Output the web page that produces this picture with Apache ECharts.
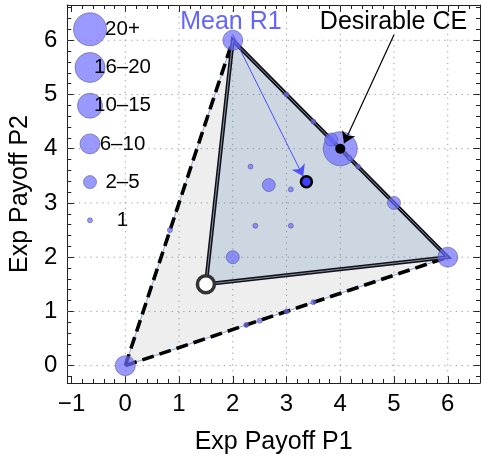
<!DOCTYPE html>
<html><head><meta charset="utf-8">
<script src="https://cdn.jsdelivr.net/npm/echarts@6/dist/echarts.min.js"></script>
<style>html,body{margin:0;padding:0;background:#fff}#c{width:482px;height:462px}</style>
</head><body><div id="c"></div>
<script>
// ---- axes / ticks ----
const X_MIN = -1.08, X_MAX = 6.6, Y_MIN = -0.32, Y_MAX = 6.65;
const X_TICKS = [-1, 0, 1, 2, 3, 4, 5, 6];
const X_TICK_LABELS = ['\u22121', '0', '1', '2', '3', '4', '5', '6'];
const Y_TICKS = [0, 1, 2, 3, 4, 5, 6];
const Y_TICK_LABELS = ['0', '1', '2', '3', '4', '5', '6'];
const GRID_X = [0, 1, 2, 3, 4, 5, 6];
const GRID_Y = [0, 1, 2, 3, 4, 5, 6];
const X_TITLE = 'Exp Payoff P1';
const Y_TITLE = 'Exp Payoff P2';

// ---- size legend ----
const LEGEND_LABELS = ['20+', '16\u201320', '10\u201315', '6\u201310', '2\u20135', '1'];

// ---- regions ----
const OUTER_X = [0, 2, 6];
const OUTER_Y = [0, 6, 2];
const INNER_X = [2, 6, 1.5];
const INNER_Y = [6, 2, 1.5];

// ---- observed points (category = index into LEGEND_LABELS) ----
const PT_X   = [4,    0, 2, 6,  3.83, 5, 2, 2.67,  4.17, 3,  3.5, 4.33, 2.33, 3.08, 2.42, 3.08, 1.58, 0.83, 2.25, 2.5,  3, 3.5];
const PT_Y   = [4,    0, 6, 2,  4.17, 3, 2, 3.33,  3.83, 5,  4.5, 3.67, 3.67, 3.25, 2.58, 2.58, 1.42, 2.5,  0.75, 0.83, 1, 1.17];
const PT_CAT = [0,    3, 3, 3,  4,    4, 4, 4,     5,    5,  5,   5,    5,    5,    5,    5,    5,    5,    5,    5,    5, 5];

// ---- special points & annotations ----
const MEAN_R1 = [3.37, 3.39];
const DESIRABLE_CE = [4, 4];
const OPEN_PT = [1.5, 1.5];
const MEAN_ARROW = [[2.0, 6.1], [3.31, 3.49]];
const CE_ARROW = [[5.0, 6.1], [4.07, 4.1]];
const MEAN_LABEL = {text: 'Mean R1', pos: [1.965, 6.335]};
const CE_LABEL = {text: 'Desirable CE', pos: [4.99, 6.335]};

// style constants
const CAT_RADIUS = [17, 15, 12.5, 10, 6.5, 2.5];
const LEGEND_RADIUS = [16.5, 15, 12.5, 10, 6.5, 2.5];
const FONT = '"Liberation Sans", Arial, Helvetica, sans-serif';
const PT_FILL = 'rgba(110,110,255,0.7)';
const PT_STROKE = 'rgba(80,80,140,0.55)';

function minors(ticks, lo, hi) {
  const out = [];
  for (let i = 0; i < ticks.length + 1; i++) {
    const base = (i === 0 ? ticks[0] - 1 : ticks[i - 1]);
    for (let k = 1; k < 5; k++) {
      const v = +(base + k * 0.2).toFixed(4);
      if (v > lo && v < hi) out.push(v);
    }
  }
  return out;
}
const X_MINOR = minors(X_TICKS, X_MIN, X_MAX);
const Y_MINOR = minors(Y_TICKS, Y_MIN, Y_MAX);

function axis(dim, pos, values, len, label) {
  const isX = dim === 'x';
  const a = {
    type: 'value', position: pos,
    min: isX ? X_MIN : Y_MIN, max: isX ? X_MAX : Y_MAX,
    axisLine: {show: !!label || len === 7, onZero: false, lineStyle: {color: '#222', width: 1}},
    axisTick: {show: true, inside: true, length: len, customValues: values, lineStyle: {color: '#222', width: 1}},
    axisLabel: {show: false},
    splitLine: {show: false}
  };
  if (label) {
    const labs = isX ? X_TICK_LABELS : Y_TICK_LABELS;
    const ticks = isX ? X_TICKS : Y_TICKS;
    a.axisLabel = {
      show: true, customValues: values, margin: isX ? 9 : 10,
      fontSize: 24, color: '#000', fontFamily: FONT,
      formatter: v => labs[ticks.indexOf(v)]
    };
    a.name = isX ? X_TITLE : Y_TITLE;
    a.nameLocation = 'middle';
    a.nameGap = isX ? 47 : 30;
    a.nameTextStyle = {fontSize: 25, color: '#000', fontFamily: FONT};
  }
  return a;
}

const chart = echarts.init(document.getElementById('c'), null, {renderer: 'canvas'});

function pts(xs, ys) { return xs.map((x, i) => [x, ys[i]]); }

const option = {
  animation: false,
  grid: {left: 64, right: 2, top: 5, bottom: 79, containLabel: false},
  xAxis: [
    axis('x', 'bottom', X_TICKS, 7, true),
    axis('x', 'bottom', X_MINOR, 4, false),
    axis('x', 'top', X_TICKS, 7, false),
    axis('x', 'top', X_MINOR, 4, false)
  ],
  yAxis: [
    axis('y', 'left', Y_TICKS, 7, true),
    axis('y', 'left', Y_MINOR, 4, false),
    axis('y', 'right', Y_TICKS, 7, false),
    axis('y', 'right', Y_MINOR, 4, false)
  ],
  series: [
    {
      type: 'custom', clip: true, silent: true, z: 1,
      data: [0],
      renderItem: function (params, api) {
        const c = p => api.coord(p);
        const outer = pts(OUTER_X, OUTER_Y).map(c);
        const inner = pts(INNER_X, INNER_Y).map(c);
        const ch = [];
        ch.push({type: 'polygon', shape: {points: outer}, style: {fill: '#eeeeee', stroke: null}});
        ch.push({type: 'polygon', shape: {points: inner}, style: {fill: '#cdd7e2', stroke: null}});
        GRID_X.forEach(v => ch.push({type: 'line', shape: {x1: c([v, Y_MIN])[0], y1: c([v, Y_MIN])[1], x2: c([v, Y_MAX])[0], y2: c([v, Y_MAX])[1]},
          style: {stroke: 'rgba(120,120,120,0.7)', lineWidth: 1, lineDash: [1.3, 4.5]}}));
        GRID_Y.forEach(v => ch.push({type: 'line', shape: {x1: c([X_MIN, v])[0], y1: c([X_MIN, v])[1], x2: c([X_MAX, v])[0], y2: c([X_MAX, v])[1]},
          style: {stroke: 'rgba(120,120,120,0.7)', lineWidth: 1, lineDash: [1.3, 4.5]}}));
        // thin steel lines along outer edges
        [[0, 1], [0, 2], [1, 2]].forEach(([a, b]) => ch.push({type: 'line',
          shape: {x1: outer[a][0], y1: outer[a][1], x2: outer[b][0], y2: outer[b][1]},
          style: {stroke: '#8aa2d2', lineWidth: 1}}));
        // dashed outer edges
        [[0, 1], [0, 2]].forEach(([a, b]) => ch.push({type: 'line',
          shape: {x1: outer[a][0], y1: outer[a][1], x2: outer[b][0], y2: outer[b][1]},
          style: {stroke: '#000', lineWidth: 3.6, lineDash: [12, 6]}}));
        // inner polygon double edge
        ch.push({type: 'polygon', shape: {points: inner}, style: {fill: null, stroke: '#101018', lineWidth: 4, lineJoin: 'miter'}});
        ch.push({type: 'polygon', shape: {points: inner}, style: {fill: null, stroke: '#8f9aab', lineWidth: 0.9}});
        return {type: 'group', children: ch};
      }
    },
    {
      type: 'scatter', z: 3, silent: true,
      data: PT_X.map((x, i) => [x, PT_Y[i], PT_CAT[i]]),
      symbol: 'circle',
      symbolSize: v => 2 * CAT_RADIUS[v[2]],
      itemStyle: {color: PT_FILL, borderColor: PT_STROKE, borderWidth: 1, opacity: 1}
    },
    {
      type: 'scatter', z: 4, silent: true,
      data: [OPEN_PT], symbol: 'circle', symbolSize: 17,
      itemStyle: {color: '#fff', borderColor: '#333', borderWidth: 3.5, opacity: 1}
    },
    {
      type: 'lines', coordinateSystem: 'cartesian2d', z: 5, silent: true,
      data: [{coords: MEAN_ARROW, lineStyle: {color: '#5050ff'}}],
      lineStyle: {width: 1, opacity: 1},
      symbol: ['none', 'arrow'], symbolSize: 11
    },
    {
      type: 'lines', coordinateSystem: 'cartesian2d', z: 5, silent: true,
      data: [{coords: CE_ARROW, lineStyle: {color: '#000'}}],
      lineStyle: {width: 1.2, opacity: 1},
      symbol: ['none', 'arrow'], symbolSize: 11
    },
    {
      type: 'scatter', z: 6, silent: true,
      data: [MEAN_R1], symbol: 'circle', symbolSize: 11,
      itemStyle: {color: '#3f3fff', borderColor: '#000', borderWidth: 2.5, opacity: 1}
    },
    {
      type: 'scatter', z: 6, silent: true,
      data: [DESIRABLE_CE], symbol: 'circle', symbolSize: 10,
      itemStyle: {color: '#000', borderWidth: 0, opacity: 1}
    },
    {
      type: 'custom', z: 7, silent: true, clip: false,
      data: [0, 1],
      renderItem: function (params, api) {
        const L = params.dataIndex === 0 ? MEAN_LABEL : CE_LABEL;
        const p = api.coord(L.pos);
        return {type: 'text', x: p[0], y: p[1], style: {text: L.text, fill: params.dataIndex === 0 ? '#6464ff' : '#000',
          font: '25px ' + FONT, textAlign: 'center', textVerticalAlign: 'middle'}};
      }
    }
  ],
  graphic: LEGEND_LABELS.map((t, i) => ({
    type: 'group', z: 100,
    children: [
      {type: 'circle', shape: {cx: 90, cy: 29.3 + 38.2 * i, r: LEGEND_RADIUS[i]}, style: {fill: PT_FILL, stroke: PT_STROKE, lineWidth: 1}},
      {type: 'text', style: {x: 122.5, y: 29.3 + 38.2 * i, text: t, fill: '#000', font: '20.5px ' + FONT, align: 'center', verticalAlign: 'middle'}}
    ]
  }))
};
chart.setOption(option);
</script>
</body></html>
